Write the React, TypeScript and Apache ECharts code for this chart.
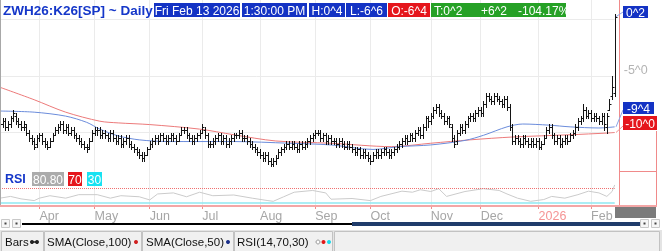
import React, { useEffect, useRef } from 'react';
import * as echarts from 'echarts';

const FONT = '"Liberation Sans", Arial, sans-serif';
const MONTHS = ['Jan', 'Feb', 'Mar', 'Apr', 'May', 'Jun', 'Jul', 'Aug', 'Sep', 'Oct', 'Nov', 'Dec'];
const DAYS = ['Sun', 'Mon', 'Tue', 'Wed', 'Thu', 'Fri', 'Sat'];

const firstDay = '2025-03-11';
const lastDay = '2026-02-13';
const holidays = ['2025-04-18', '2025-05-26', '2025-06-19', '2025-07-04', '2025-09-01', '2025-11-27', '2025-12-25', '2026-01-01', '2026-01-19'];

const opens = [
  -9.0, -9.25, -9.0, -9.5, -9.25, -8.75, -8.5, -9.0, -9.25, -9.5,
  -9.5, -10.0, -10.5, -10.75, -11.0, -10.5, -10.25, -10.75, -11.0, -11.25,
  -10.75, -10.25, -9.75, -9.5, -9.25, -9.75, -9.5, -10.0, -9.75, -10.25,
  -10.5, -10.75, -11.0, -11.25, -11.25, -10.75, -10.0, -9.75, -9.75, -10.25,
  -10.0, -10.25, -10.5, -10.0, -10.5, -10.75, -10.5, -11.0, -10.75, -10.5,
  -11.0, -11.25, -11.5, -11.75, -12.0, -12.25, -12.0, -11.5, -11.0, -10.75,
  -10.5, -10.75, -10.25, -10.5, -10.75, -10.5, -10.25, -10.5, -10.75, -10.25,
  -9.75, -9.75, -10.25, -10.5, -10.75, -10.5, -10.25, -10.0, -9.75, -10.25,
  -11.0, -11.0, -10.75, -10.5, -10.25, -10.75, -10.5, -11.0, -10.75, -10.5,
  -10.25, -10.25, -10.0, -10.5, -10.5, -10.75, -11.0, -11.25, -11.5, -11.75,
  -12.0, -12.25, -12.0, -12.5, -12.75, -12.5, -12.25, -11.75, -11.5, -11.25,
  -11.0, -11.25, -11.0, -11.25, -11.5, -11.0, -11.25, -11.0, -10.75, -10.5,
  -10.25, -10.0, -10.0, -10.5, -10.25, -10.75, -10.5, -10.75, -10.75, -11.0,
  -10.75, -11.0, -11.25, -11.0, -11.25, -11.5, -11.75, -11.5, -12.0, -11.75,
  -12.0, -12.25, -12.5, -12.0, -11.75, -12.0, -11.75, -11.5, -11.75, -12.0,
  -11.75, -11.5, -11.25, -11.0, -10.75, -10.5, -10.75, -10.25, -10.5, -10.0,
  -9.75, -10.25, -9.5, -8.75, -9.0, -8.5, -8.0, -7.75, -8.25, -8.5,
  -9.0, -8.75, -9.5, -10.5, -10.75, -10.0, -9.5, -9.75, -9.25, -8.75,
  -8.5, -8.75, -8.25, -8.0, -8.25, -7.5, -6.75, -7.0, -7.25, -6.75,
  -7.0, -7.25, -7.5, -7.0, -7.75, -9.5, -10.75, -10.5, -10.75, -11.0,
  -10.5, -10.75, -11.0, -10.75, -11.0, -10.75, -11.25, -11.0, -10.5, -9.75,
  -9.5, -10.25, -10.75, -10.5, -11.0, -10.75, -10.5, -10.75, -10.25, -10.0,
  -9.5, -9.0, -8.75, -8.0, -8.5, -8.25, -8.75, -8.5, -8.75, -9.0,
  -8.5, -9.5, -8.0, -6.75, -6.5,
];
const highs = [
  -8.75, -8.75, -8.75, -9.0, -8.5, -8.0, -8.25, -8.75, -9.0, -9.0,
  -9.25, -9.75, -10.25, -10.5, -10.25, -10.0, -10.0, -10.5, -10.75, -10.5,
  -10.0, -9.5, -9.25, -9.0, -9.0, -9.25, -9.25, -9.5, -9.5, -10.0,
  -10.25, -10.5, -10.75, -11.0, -10.5, -9.75, -9.5, -9.5, -9.5, -9.75,
  -9.75, -10.0, -9.75, -9.75, -10.25, -10.25, -10.25, -10.5, -10.25, -10.25,
  -10.75, -11.0, -11.25, -11.5, -11.75, -11.75, -11.25, -10.75, -10.5, -10.25,
  -10.25, -10.0, -10.0, -10.25, -10.25, -10.0, -10.0, -10.25, -10.0, -9.5,
  -9.5, -9.5, -10.0, -10.25, -10.25, -10.0, -9.75, -9.25, -9.5, -10.0,
  -10.75, -10.5, -10.25, -10.0, -10.0, -10.25, -10.25, -10.5, -10.25, -10.0,
  -10.0, -9.75, -9.75, -10.25, -10.25, -10.5, -10.75, -11.0, -11.25, -11.5,
  -11.75, -11.75, -11.75, -12.25, -12.25, -12.0, -11.5, -11.25, -11.0, -10.75,
  -10.75, -10.75, -10.75, -11.0, -10.75, -10.75, -10.75, -10.5, -10.25, -10.0,
  -9.75, -9.75, -9.75, -10.0, -10.0, -10.25, -10.25, -10.5, -10.5, -10.5,
  -10.5, -10.75, -10.75, -10.75, -11.0, -11.25, -11.25, -11.25, -11.5, -11.5,
  -11.75, -12.0, -11.75, -11.5, -11.5, -11.5, -11.25, -11.25, -11.5, -11.5,
  -11.25, -11.0, -10.75, -10.5, -10.25, -10.25, -10.0, -10.0, -9.75, -9.5,
  -9.5, -9.25, -8.5, -8.5, -8.25, -7.75, -7.5, -7.5, -8.0, -8.25,
  -8.5, -8.5, -9.25, -10.25, -9.75, -9.25, -9.25, -9.0, -8.5, -8.25,
  -8.25, -8.0, -7.75, -7.75, -7.25, -6.5, -6.5, -6.75, -6.5, -6.5,
  -6.75, -7.0, -6.75, -6.75, -7.5, -9.25, -10.25, -10.25, -10.5, -10.25,
  -10.25, -10.5, -10.5, -10.5, -10.5, -10.5, -10.75, -10.25, -9.5, -9.25,
  -9.25, -10.0, -10.25, -10.25, -10.5, -10.25, -10.25, -10.0, -9.75, -9.25,
  -8.75, -8.5, -7.5, -7.75, -8.0, -8.0, -8.25, -8.25, -8.5, -8.25,
  -8.25, -8.25, -7.0, -5.0, 0.5,
];
const lows = [
  -9.5, -9.5, -9.75, -9.75, -9.5, -9.0, -9.25, -9.5, -9.75, -9.75,
  -10.25, -10.75, -11.0, -11.5, -11.25, -10.75, -11.0, -11.25, -11.5, -11.25,
  -10.75, -10.25, -10.0, -9.75, -10.0, -10.0, -10.25, -10.25, -10.5, -10.75,
  -11.0, -11.25, -11.5, -11.75, -11.5, -10.75, -10.25, -10.25, -10.5, -10.5,
  -10.5, -10.75, -10.75, -10.75, -11.0, -11.0, -11.25, -11.25, -11.0, -11.25,
  -11.5, -11.75, -12.0, -12.25, -12.5, -12.5, -12.0, -11.5, -11.25, -11.0,
  -11.0, -10.75, -10.75, -11.0, -11.0, -10.75, -10.75, -11.0, -10.75, -10.25,
  -10.0, -10.5, -10.75, -11.0, -11.0, -10.75, -10.5, -10.0, -10.5, -11.25,
  -11.25, -11.25, -11.0, -10.75, -11.0, -11.0, -11.25, -11.25, -11.0, -10.75,
  -10.5, -10.5, -10.75, -10.75, -11.0, -11.25, -11.5, -11.75, -12.0, -12.25,
  -12.5, -12.5, -12.75, -13.0, -13.0, -12.75, -12.25, -12.0, -11.75, -11.5,
  -11.5, -11.5, -11.5, -11.75, -11.75, -11.5, -11.5, -11.25, -11.0, -10.75,
  -10.5, -10.25, -10.75, -10.75, -11.0, -11.0, -11.0, -11.0, -11.25, -11.25,
  -11.25, -11.5, -11.5, -11.5, -11.75, -12.0, -12.0, -12.25, -12.25, -12.25,
  -12.5, -12.75, -12.5, -12.25, -12.25, -12.25, -12.0, -12.0, -12.25, -12.25,
  -12.0, -11.75, -11.5, -11.25, -11.0, -11.0, -10.75, -10.75, -10.75, -10.25,
  -10.5, -10.5, -9.75, -9.5, -9.25, -8.75, -8.25, -8.5, -8.75, -9.25,
  -9.25, -9.5, -10.75, -11.25, -11.0, -10.25, -10.0, -10.0, -9.5, -9.0,
  -9.0, -9.0, -8.5, -8.5, -8.5, -7.75, -7.25, -7.5, -7.5, -7.25,
  -7.5, -7.75, -7.75, -8.0, -9.75, -11.0, -11.0, -11.0, -11.25, -11.25,
  -11.0, -11.25, -11.25, -11.25, -11.25, -11.5, -11.5, -11.0, -10.5, -10.0,
  -10.5, -11.0, -11.0, -11.25, -11.25, -11.0, -11.0, -10.75, -10.5, -10.25,
  -9.75, -9.25, -9.0, -8.75, -8.75, -9.0, -9.0, -9.0, -9.25, -9.25,
  -9.75, -10.0, -8.0, -7.0, -6.75,
];
const closes = [
  -9.25, -9.0, -9.5, -9.25, -8.75, -8.25, -9.0, -9.25, -9.5, -9.25,
  -10.0, -10.5, -10.75, -11.25, -10.5, -10.25, -10.75, -11.0, -11.25, -10.75,
  -10.25, -9.75, -9.5, -9.25, -9.75, -9.5, -10.0, -9.75, -10.25, -10.5,
  -10.75, -11.0, -11.25, -11.5, -10.75, -10.0, -9.75, -9.75, -10.25, -10.0,
  -10.25, -10.5, -10.0, -10.5, -10.75, -10.5, -11.0, -10.75, -10.5, -11.0,
  -11.25, -11.5, -11.75, -12.0, -12.25, -12.0, -11.5, -11.0, -10.75, -10.5,
  -10.75, -10.25, -10.5, -10.75, -10.5, -10.25, -10.5, -10.75, -10.25, -9.75,
  -9.75, -10.25, -10.5, -10.75, -10.5, -10.25, -10.0, -9.5, -10.25, -11.0,
  -11.0, -10.75, -10.5, -10.25, -10.75, -10.5, -11.0, -10.75, -10.5, -10.25,
  -10.25, -10.0, -10.5, -10.5, -10.75, -11.0, -11.25, -11.5, -11.75, -12.0,
  -12.25, -12.0, -12.5, -12.75, -12.5, -12.25, -11.75, -11.5, -11.25, -11.0,
  -11.25, -11.0, -11.25, -11.5, -11.0, -11.25, -11.0, -10.75, -10.5, -10.25,
  -10.0, -10.0, -10.5, -10.25, -10.75, -10.5, -10.75, -10.75, -11.0, -10.75,
  -11.0, -11.25, -11.0, -11.25, -11.5, -11.75, -11.5, -12.0, -11.75, -12.0,
  -12.25, -12.5, -12.0, -11.75, -12.0, -11.75, -11.5, -11.75, -12.0, -11.75,
  -11.5, -11.25, -11.0, -10.75, -10.5, -10.75, -10.25, -10.5, -10.0, -9.75,
  -10.25, -9.5, -8.75, -9.0, -8.5, -8.0, -7.75, -8.25, -8.5, -9.0,
  -8.75, -9.25, -10.5, -11.0, -10.0, -9.5, -9.75, -9.25, -8.75, -8.5,
  -8.75, -8.25, -8.0, -8.25, -7.5, -6.75, -7.0, -7.25, -6.75, -7.0,
  -7.25, -7.5, -7.0, -7.75, -9.5, -10.75, -10.5, -10.75, -11.0, -10.5,
  -10.75, -11.0, -10.75, -11.0, -10.75, -11.25, -11.0, -10.5, -9.75, -9.5,
  -10.25, -10.75, -10.5, -11.0, -10.75, -10.5, -10.75, -10.25, -10.0, -9.5,
  -9.0, -8.75, -8.0, -8.5, -8.25, -8.75, -8.5, -8.75, -9.0, -8.5,
  -9.25, -8.5, -7.5, -6.0, 0.25,
];

// [bar index, value] samples
const sma100 = [
  [0, -6.0], [13, -7.1], [25, -8.2], [38, -9.0], [45, -9.15], [57, -9.3], [76, -9.7], [89, -10.2],
  [105, -10.75], [126, -10.95], [149, -11.25], [164, -10.95], [179, -10.65], [195, -10.4], [217, -10.2],
  [231, -10.05], [234, -10.0],
];
const sma50 = [
  [0, -8.1], [13, -8.2], [25, -8.55], [33, -9.1], [38, -9.7], [45, -10.3], [53, -10.65], [64, -10.8],
  [89, -10.8], [110, -10.95], [126, -11.1], [142, -11.5], [152, -11.25], [164, -11.1], [177, -10.7],
  [184, -10.25], [193, -9.5], [199, -9.25], [209, -9.35], [217, -9.5], [228, -9.6], [234, -9.5],
];
const rsi = [
  [0, 43], [4, 48], [8, 41], [13, 36], [15, 43], [19, 50], [25, 43], [30, 53], [37, 53], [42, 43],
  [46, 50], [53, 47], [57, 38], [60, 55], [66, 58], [71, 47], [76, 60], [81, 50], [89, 52], [96, 43],
  [102, 36], [104, 34], [108, 47], [112, 60], [119, 65], [124, 58], [126, 40], [134, 42], [141, 36],
  [145, 48], [153, 63], [157, 60], [160, 67], [164, 62], [167, 70], [170, 48], [177, 62], [184, 70],
  [190, 65], [193, 55], [197, 43], [202, 34], [207, 39], [210, 48], [215, 43], [220, 53], [224, 63],
  [228, 58], [231, 48], [233, 62], [234, 80.8],
];
const rsiLevels = [70, 30];

function pad(n: number) { return n < 10 ? '0' + n : '' + n; }
function tradingDays(): string[] {
  const out: string[] = [];
  const [y0, m0, d0] = firstDay.split('-').map(Number);
  const d = new Date(Date.UTC(y0, m0 - 1, d0));
  for (;;) {
    const s = `${d.getUTCFullYear()}-${pad(d.getUTCMonth() + 1)}-${pad(d.getUTCDate())}`;
    const wd = d.getUTCDay();
    if (wd !== 0 && wd !== 6 && holidays.indexOf(s) < 0) out.push(s);
    if (s === lastDay) break;
    d.setUTCDate(d.getUTCDate() + 1);
  }
  return out;
}
function fmtQ(v: number) {
  const sign = v < 0 ? '-' : '';
  const a = Math.abs(v);
  let whole = Math.floor(a + 1e-9);
  let frac = Math.round((a - whole) * 8);
  if (frac === 8) { whole += 1; frac = 0; }
  return `${sign}${whole}^${frac}`;
}

const C_BLUE = '#1433c4';
const C_RED = '#e5161c';
const C_GREEN = '#26a126';
const C_PINK = '#f08a8a';

export default function App() {
  const ref = useRef<HTMLDivElement>(null);
  useEffect(() => {
    if (!ref.current) return;
    const chart = echarts.init(ref.current, undefined, { renderer: 'svg' });
    const dates = tradingDays();
    const n = closes.length;
    const monthStart = dates.map((d, i) => i > 0 && d.slice(5, 7) !== dates[i - 1].slice(5, 7));
    const isMS = (i: number) => !!monthStart[i];

    const BAND = 2.627;
    const PLOT_W = (n - 1) * BAND;
    const MAIN_H = 189;
    const YMIN = -15;
    const YMAX = 1.7257;
    const yPix = (v: number) => (YMAX - v) / (YMAX - YMIN) * MAIN_H;

    const last = n - 1;
    const chg = closes[last] - closes[last - 1];
    const pct = (chg / closes[last - 1] * 100).toFixed(2) + '%';
    const [ly, lm, ld] = dates[last].split('-').map(Number);
    const ldate = new Date(Date.UTC(ly, lm - 1, ld));
    const dateText = `${DAYS[ldate.getUTCDay()]} ${MONTHS[lm - 1]} ${ld} ${ly}`;

    const els: any[] = [];
    const rect = (x: number, y: number, w: number, h: number, fill: string, stroke?: string, z = 50) =>
      els.push({ type: 'rect', z, shape: { x, y, width: w, height: h }, style: { fill, stroke: stroke || 'none', lineWidth: 1 } });
    const txt = (x: number, y: number, text: string, fill: string, size: number, weight = 'normal', align = 'left', z = 51) =>
      els.push({ type: 'text', z, x, y, style: { text, fill, fontSize: size, fontWeight: weight, fontFamily: FONT, align, verticalAlign: 'middle' } });
    const line = (x1: number, y1: number, x2: number, y2: number, stroke: string, w = 1, z = 50) =>
      els.push({ type: 'line', z, shape: { x1, y1, x2, y2 }, style: { stroke, lineWidth: w } });
    const circ = (cx: number, cy: number, r: number, fill: string, stroke?: string) =>
      els.push({ type: 'circle', z: 52, shape: { cx, cy, r }, style: { fill, stroke: stroke || 'none', lineWidth: 1 } });
    const box = (x: number, y: number, w: number, h: number, fill: string, text: string, size = 12) => {
      rect(x, y, w, h, fill);
      txt(x + w / 2, y + h / 2 + 0.5, text, '#ffffff', size, 'normal', 'center');
    };

    // header
    txt(3, 10, 'ZWH26:K26[SP] ~ Daily', '#1537c9', 13.5, 'bold');
    box(154, 3, 86, 14, C_BLUE, dateText);
    box(242, 3, 65, 14, C_BLUE, '1:30:00 PM');
    box(309, 3, 36, 14, C_BLUE, 'H:' + fmtQ(highs[last]));
    box(346, 3, 41, 14, C_BLUE, 'L:' + fmtQ(lows[last]));
    box(388, 3, 42, 14, C_RED, 'O:' + fmtQ(opens[last]));
    rect(431, 3, 135, 14, C_GREEN);
    txt(434, 10.5, 'T:' + fmtQ(closes[last]), '#fff', 12);
    txt(481, 10.5, (chg >= 0 ? '+' : '') + fmtQ(chg), '#fff', 12);
    txt(518, 10.5, pct, '#fff', 12);

    // pane borders
    line(0.5, 0, 0.5, 206, '#a8a8a8');
    line(619.5, 0, 619.5, 206, C_PINK);
    line(619, 171.5, 657, 171.5, C_PINK);
    line(656.5, 131, 656.5, 206, C_PINK);
    line(0, 206, 657, 206, '#f4a6a6', 2);
    rect(615, 207, 41, 11, '#7b7b7b');

    // last-value labels
    const lastS50 = sma50[sma50.length - 1][1];
    const lastS100 = sma100[sma100.length - 1][1];
    line(616, yPix(closes[last]), 623, 12, '#8ea4e4');
    box(623, 6, 25, 12, C_BLUE, fmtQ(closes[last]));
    line(616, yPix(lastS50), 623, 110, '#8ea4e4');
    box(623, 102, 31, 12, C_BLUE, fmtQ(lastS50));
    line(616, yPix(lastS100), 623, 126, '#f09090');
    box(623, 116, 34, 14, C_RED, fmtQ(lastS100));

    // RSI labels
    txt(5, 179, 'RSI', '#1537c9', 12.5, 'bold');
    box(32, 172, 32, 14, '#ababab', (rsi[rsi.length - 1][1] as number).toFixed(2));
    box(68, 172, 14, 14, C_RED, String(rsiLevels[0]));
    box(87, 172, 15, 14, '#18e2f2', String(rsiLevels[1]));

    // scrollbar
    const btn = (x: number) => { rect(x + 0.5, 219.5, 8, 8, '#f6f6f6', '#c8c8c8'); rect(x + 3.5, 222.5, 2, 2, '#444'); };
    btn(1); btn(12); btn(640); btn(651);
    line(22, 224, 352, 224, '#000000', 2);
    rect(352, 222, 288, 4, '#1f3c6b');

    // legend strip
    rect(0, 230, 662, 21, '#e4e4e4');
    rect(1.5, 231.5, 42, 20, '#f0f0f0', '#c2c2c2');
    rect(44.5, 231.5, 97, 20, '#f0f0f0', '#c2c2c2');
    rect(142.5, 231.5, 91, 20, '#f0f0f0', '#c2c2c2');
    rect(234.5, 231.5, 98, 20, '#f0f0f0', '#c2c2c2');
    rect(334.5, 231.5, 325, 20, '#f0f0f0', '#c2c2c2');
    txt(5, 242, 'Bars', '#111', 11.5);
    line(32, 242, 37, 242, '#222', 1.5); circ(32, 242, 2, '#222'); circ(37, 242, 2, '#222');
    txt(47, 242, 'SMA(Close,100)', '#111', 11.5);
    circ(136, 242, 2, '#d02020');
    txt(146, 242, 'SMA(Close,50)', '#111', 11.5);
    circ(228, 242, 2, '#1a2f8a');
    txt(237, 242, 'RSI(14,70,30)', '#111', 11.5);
    circ(318, 242, 2, '#ffffff', '#9a9a9a'); circ(323.5, 242, 2, '#e01818'); circ(329, 242, 2, '#18d8ea');

    const bars = closes.map((c, i) => [i, opens[i], highs[i], lows[i], c]);

    chart.setOption({
      animation: false,
      textStyle: { fontFamily: FONT },
      grid: [
        { left: 0, top: 0, width: PLOT_W, height: MAIN_H },
        { left: 0, top: 171, width: PLOT_W, height: 35 },
      ],
      xAxis: [
        {
          gridIndex: 0, type: 'category', data: dates, boundaryGap: false,
          axisLine: { show: false }, axisTick: { show: false }, axisLabel: { show: false },
          splitLine: { show: true, interval: isMS, lineStyle: { color: '#ebebeb', width: 1 } },
        },
        {
          gridIndex: 1, type: 'category', data: dates, boundaryGap: false,
          axisLine: { show: false },
          axisTick: { show: true, interval: isMS, length: 3, lineStyle: { color: C_PINK } },
          axisLabel: {
            show: true, interval: isMS, align: 'left', margin: 3, color: '#a6a6a6', fontSize: 12.5, fontFamily: FONT,
            formatter: (v: string) => {
              const m = +v.slice(5, 7);
              return m === 1 ? `{y|${v.slice(0, 4)}}` : MONTHS[m - 1];
            },
            rich: { y: { color: '#f59494', fontSize: 12.5, fontFamily: FONT } },
          },
          splitLine: { show: true, interval: isMS, lineStyle: { color: '#ebebeb', width: 1 } },
        },
      ],
      yAxis: [
        {
          gridIndex: 0, type: 'value', position: 'right', min: YMIN, max: YMAX, interval: 5,
          axisLine: { show: false }, axisTick: { show: false },
          splitLine: { show: true, lineStyle: { color: ['rgba(0,0,0,0)', '#ebebeb', '#ebebeb', '#ebebeb', 'rgba(0,0,0,0)'] } },
          axisLabel: {
            margin: 9, color: '#b4b4b4', fontSize: 12.5, fontFamily: FONT, verticalAlign: 'bottom',
            formatter: (v: number) => (Math.abs(v + 5) < 1e-6 ? fmtQ(v) : ''),
          },
        },
        { gridIndex: 1, type: 'value', min: 20.6, max: 120.6, show: false },
      ],
      series: [
        {
          type: 'line', xAxisIndex: 0, yAxisIndex: 0, data: sma100, smooth: 0.3, showSymbol: false, z: 2,
          lineStyle: { color: '#ec7a7a', width: 1 }, itemStyle: { color: '#ec7a7a' },
        },
        {
          type: 'line', xAxisIndex: 0, yAxisIndex: 0, data: sma50, smooth: 0.3, showSymbol: false, z: 2,
          lineStyle: { color: '#6b8cdb', width: 1 }, itemStyle: { color: '#6b8cdb' },
        },
        {
          type: 'custom', xAxisIndex: 0, yAxisIndex: 0, data: bars, z: 3,
          encode: { x: 0, y: [1, 2, 3, 4] },
          renderItem: (params: any, api: any) => {
            const i = api.value(0);
            const x = Math.round(api.coord([i, api.value(1)])[0]) + 0.5;
            const yo = Math.round(api.coord([i, api.value(1)])[1]) + 0.5;
            const yh = api.coord([i, api.value(2)])[1];
            const yl = api.coord([i, api.value(3)])[1];
            const yc = Math.round(api.coord([i, api.value(4)])[1]) + 0.5;
            const st = { stroke: '#141414', lineWidth: 1 };
            return {
              type: 'group',
              children: [
                { type: 'line', shape: { x1: x, y1: Math.round(yh), x2: x, y2: Math.round(yl) + 1 }, style: st },
                { type: 'line', shape: { x1: x - 2, y1: yo, x2: x, y2: yo }, style: st },
                { type: 'line', shape: { x1: x, y1: yc, x2: x + 2, y2: yc }, style: st },
              ],
            };
          },
        },
        {
          type: 'line', xAxisIndex: 1, yAxisIndex: 1, data: rsi, showSymbol: false, z: 2,
          lineStyle: { color: '#cbcbcb', width: 1 }, itemStyle: { color: '#cbcbcb' },
          markLine: {
            silent: true, symbol: 'none', label: { show: false },
            data: [
              { yAxis: rsiLevels[0], lineStyle: { color: '#f07070', type: 'dotted', width: 1 } },
              { yAxis: rsiLevels[1], lineStyle: { color: '#8fe9f2', type: 'solid', width: 1.5 } },
            ],
          },
        },
      ],
      graphic: { elements: els },
    });
    return () => chart.dispose();
  }, []);
  return <div ref={ref} style={{ position: 'fixed', left: 0, top: 0, width: 662, height: 251 }} />;
}
